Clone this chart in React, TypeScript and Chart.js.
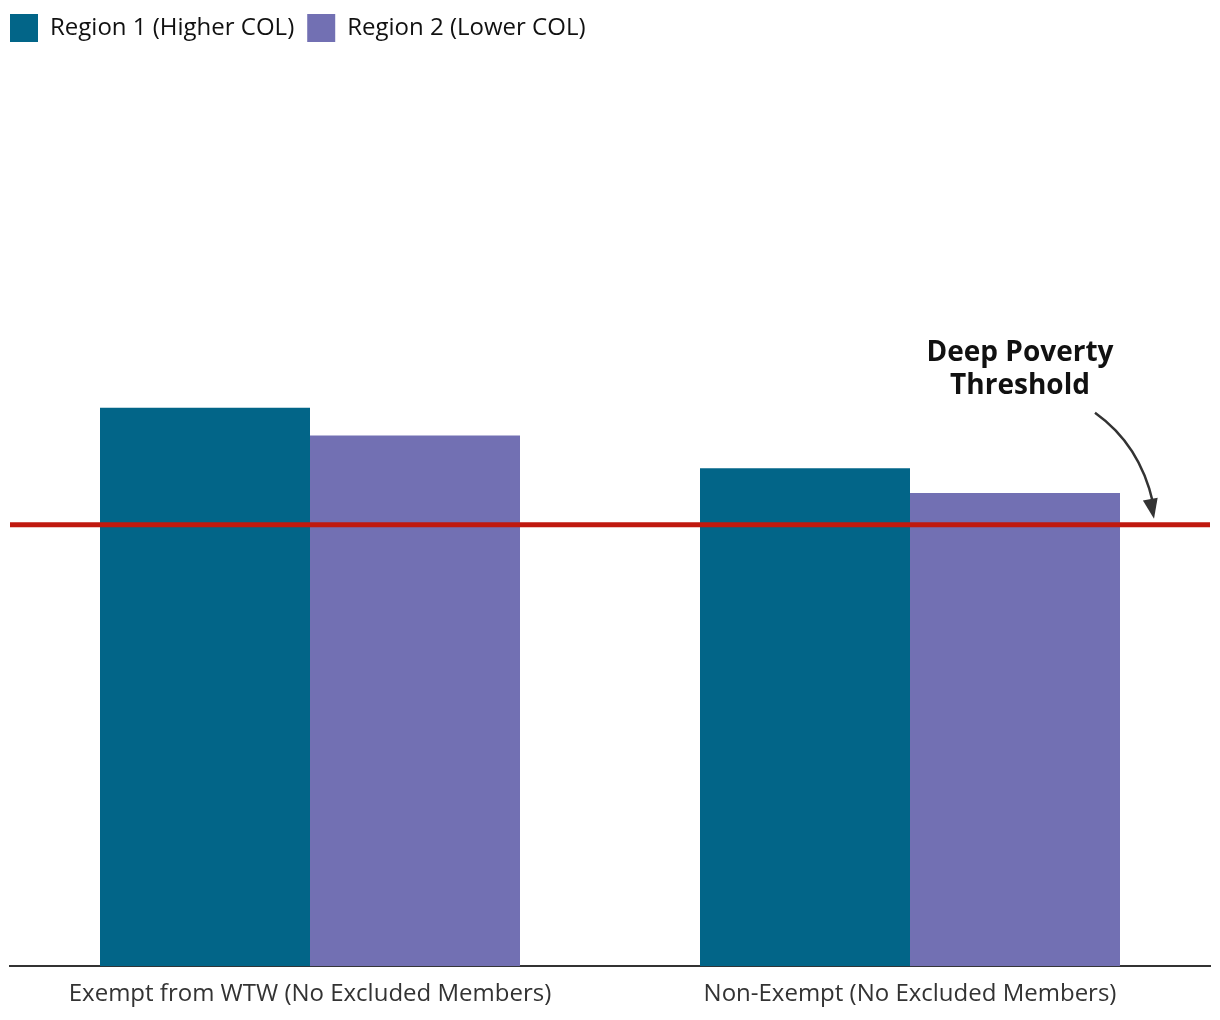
import React, { useEffect, useRef } from "react";
import { Chart, registerables } from "chart.js";

Chart.register(...registerables);

const categories = ["Exempt from WTW (No Excluded Members)", "Non-Exempt (No Excluded Members)"];
const seriesNames = ["Region 1 (Higher COL)", "Region 2 (Lower COL)"];
const region1Values = [1370, 1222];
const region2Values = [1302, 1161];
const thresholdValue = 1083;
const thresholdLabel = ["Deep Poverty", "Threshold"];
const yMax = 2243;

const TEAL = "#026588";
const PURPLE = "#7270b3";
const RED = "#c0190f";

const thresholdPlugin = {
  id: "threshold",
  afterDatasetsDraw(chart: any) {
    const { ctx, chartArea, scales } = chart;
    const y = scales.y.getPixelForValue(thresholdValue);
    ctx.save();
    ctx.strokeStyle = RED;
    ctx.lineWidth = 5;
    ctx.beginPath();
    ctx.moveTo(chartArea.left, y);
    ctx.lineTo(chartArea.right, y);
    ctx.stroke();

    // label
    const r = chartArea.right;
    ctx.fillStyle = "#111";
    ctx.font = "bold 28px 'Open Sans'";
    ctx.textAlign = "center";
    ctx.textBaseline = "middle";
    ctx.fillText(thresholdLabel[0], r - 190, y - 172);
    ctx.fillText(thresholdLabel[1], r - 190, y - 139);

    // arrow
    const sx = r - 115, sy = y - 112;
    const tx = r - 56, ty = y - 6;
    const cx = r - 70, cy = y - 80;
    const ex = tx - 1, ey = ty - 16;
    ctx.strokeStyle = "#333";
    ctx.lineWidth = 2.5;
    ctx.beginPath();
    ctx.moveTo(sx, sy);
    ctx.quadraticCurveTo(cx, cy, ex, ey);
    ctx.stroke();
    const a = Math.atan2(ty - cy, tx - cx);
    const len = 20, half = 7.5;
    ctx.fillStyle = "#333";
    ctx.beginPath();
    ctx.moveTo(tx, ty);
    ctx.lineTo(tx - len * Math.cos(a) + half * Math.sin(a), ty - len * Math.sin(a) - half * Math.cos(a));
    ctx.lineTo(tx - len * Math.cos(a) - half * Math.sin(a), ty - len * Math.sin(a) + half * Math.cos(a));
    ctx.closePath();
    ctx.fill();
    ctx.restore();
  },
};

export default function App() {
  const ref = useRef<HTMLCanvasElement>(null);
  useEffect(() => {
    if (!ref.current) return;
    const chart = new Chart(ref.current, {
      type: "bar",
      data: {
        labels: categories,
        datasets: [
          { label: seriesNames[0], data: region1Values, backgroundColor: TEAL, borderWidth: 0 },
          { label: seriesNames[1], data: region2Values, backgroundColor: PURPLE, borderWidth: 0 },
        ],
      },
      options: {
        responsive: false,
        animation: false,
        layout: { padding: { left: -3, right: 10, top: 1, bottom: -3 } },
        categoryPercentage: 0.7,
        barPercentage: 1.0,
        plugins: {
          legend: {
            position: "top",
            align: "start",
            labels: {
              boxWidth: 28,
              boxHeight: 28,
              padding: 13,
              color: "#111",
              font: { family: "'Open Sans'", size: 24 },
            },
          },
          tooltip: { enabled: false },
        },
        scales: {
          x: {
            grid: { display: false, drawTicks: false },
            border: { display: true, color: "#333", width: 2 },
            ticks: { color: "#333", font: { family: "'Open Sans'", size: 24 }, padding: 14, maxRotation: 0 },
          },
          y: {
            min: 0,
            max: yMax,
            display: true,
            grid: { display: false, drawTicks: false },
            border: { display: false },
            ticks: { display: false },
            afterFit: (s: any) => { s.width = 13; },
          },
        },
      } as any,
      plugins: [thresholdPlugin],
    });
    return () => chart.destroy();
  }, []);
  return (
    <div style={{ position: "absolute", left: 0, top: 0, width: 1220, height: 1020, background: "#fff" }}>
      <canvas ref={ref} width={1220} height={1020} style={{ width: 1220, height: 1020 }} />
    </div>
  );
}
